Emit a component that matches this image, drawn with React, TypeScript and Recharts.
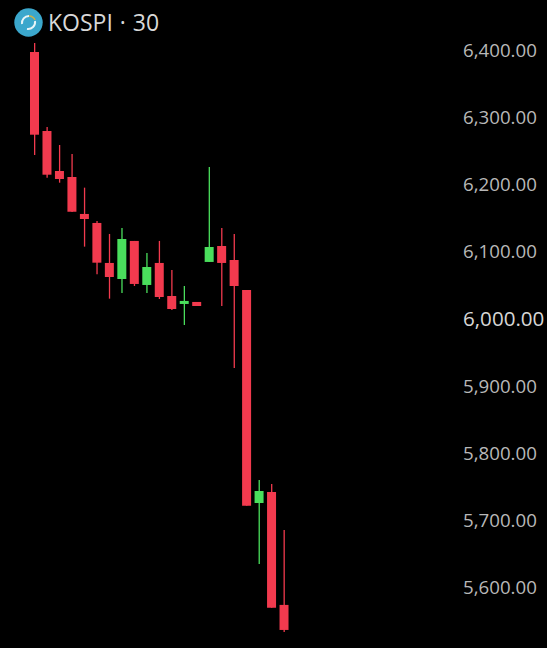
import React from 'react';
import { Bar, Cell, ComposedChart, XAxis, YAxis } from 'recharts';

const slots = ['0', '1', '2', '3', '4', '5', '6', '7', '8', '9', '10', '11', '12', '13', '14', '15', '16', '17', '18', '19', '20'];
const opens = [6397, 6279.3, 6219.7, 6210.8, 6155.7, 6142.3, 6082.7, 6058.8, 6115.5, 6049.9, 6082.7, 6033.5, 6021.6, 6024.6, 6084.2, 6108, 6087.1, 6042.4, 5725.1, 5741.5, 5573.2];
const highs = [6410.4, 6285.3, 6258.5, 6245, 6194.9, 6145.2, 6125.9, 6134.8, 6115.5, 6097.6, 6115.5, 6072.2, 6048.4, 6024.6, 6225.7, 6134.8, 6125.9, 6042.4, 5759.4, 5753.4, 5684.9];
const lows = [6243.6, 6209.8, 6202.3, 6158.7, 6107, 6065.8, 6029.5, 6038, 6048.4, 6038, 6029, 6012.7, 5990.3, 6018.6, 6084.2, 6018.6, 5926.2, 5721, 5634.3, 5569.1, 5533];
const closes = [6273.8, 6214.2, 6207.8, 6159, 6148.2, 6083.1, 6061.8, 6118.4, 6051.4, 6076.7, 6032, 6014.1, 6026.1, 6018.6, 6106.5, 6082.7, 6048.4, 5721, 5743, 5569.1, 5535.9];
const priceTicks = [5600, 5700, 5800, 5900, 6000, 6100, 6200, 6300, 6400];

const UP = '#4ade5c';
const DOWN = '#f23a4e';

const candles = slots.map((slot, i) => ({
  slot,
  wick: [lows[i], highs[i]],
  body: [Math.min(opens[i], closes[i]), Math.max(opens[i], closes[i])],
  up: closes[i] > opens[i],
}));

const PriceTick = (props: any) => {
  const big = props.payload.value === 6000;
  return (
    <text x={463} y={props.y + 0.5} dy="0.35em" fill={big ? '#d6d6d6' : '#b8b8b8'} fontSize={big ? 20.6 : 18.7} fontFamily="'Open Sans', sans-serif">
      {props.payload.value.toLocaleString('en-US', { minimumFractionDigits: 2, maximumFractionDigits: 2 })}
    </text>
  );
};

const App = () => {
  return (
    <div style={{ position: 'absolute', left: 0, top: 0, width: 547, height: 648, background: '#000', overflow: 'hidden' }}>
      <ComposedChart width={547} height={648} data={candles} margin={{ top: 0, right: 0, bottom: 0, left: 28 }} barCategoryGap={0}>
        <XAxis xAxisId="wick" dataKey="slot" hide padding={{ left: 0, right: 165 }} />
        <XAxis xAxisId="body" dataKey="slot" hide padding={{ left: 0, right: 165 }} />
        <YAxis
          orientation="right"
          width={92}
          domain={[5509, 6474.5]}
          allowDataOverflow
          ticks={priceTicks}
          interval={0}
          axisLine={false}
          tickLine={false}
          tick={PriceTick}
        />
        <Bar xAxisId="wick" dataKey="wick" barSize={1.3} isAnimationActive={false}>
          {candles.map((c) => (
            <Cell key={c.slot} fill={c.up ? UP : DOWN} />
          ))}
        </Bar>
        <Bar xAxisId="body" dataKey="body" barSize={9} isAnimationActive={false}>
          {candles.map((c) => (
            <Cell key={c.slot} fill={c.up ? UP : DOWN} />
          ))}
        </Bar>
      </ComposedChart>
      <div style={{ position: 'absolute', left: 14, top: 8, display: 'flex', alignItems: 'center', height: 28 }}>
        <svg width={29} height={29} viewBox="0 0 29 29">
          <circle cx={14.5} cy={14.5} r={14.2} fill="#3ba7cc" />
          <path d="M8 16 A7 7 0 0 1 15 8" fill="none" stroke="#e8f4f8" strokeWidth={2} />
          <path d="M21 13 A7 7 0 0 1 13 21" fill="none" stroke="#e8f4f8" strokeWidth={2} />
          <path d="M15 8 A7 7 0 0 1 21 12" fill="none" stroke="#c9b24a" strokeWidth={1.5} />
        </svg>
        <span style={{ marginLeft: 5, color: '#d8d8d8', fontSize: 23, wordSpacing: 1, fontFamily: "'Open Sans', sans-serif", whiteSpace: 'pre' }}>KOSPI · 30</span>
      </div>
    </div>
  );
};

export default App;
